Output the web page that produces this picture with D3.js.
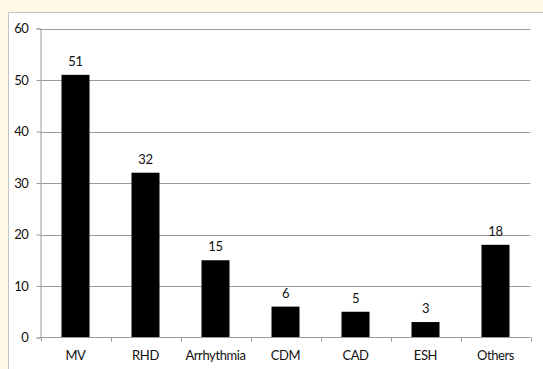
<!DOCTYPE html>
<html>
<head>
<meta charset="utf-8">
<script src="https://cdn.jsdelivr.net/npm/d3@7"></script>
<style>
  html, body { margin: 0; padding: 0; background: #fffae6; }
  svg { display: block; }
  text { font-family: "Lato", "Liberation Sans", sans-serif; fill: #111; letter-spacing: -0.4px; }
</style>
</head>
<body>
<svg id="chart" width="543" height="369"></svg>
<script>
const categories = ["MV", "RHD", "Arrhythmia", "CDM", "CAD", "ESH", "Others"];
const counts = [51, 32, 15, 6, 5, 3, 18];
const yTicks = [0, 10, 20, 30, 40, 50, 60];

const W = 543, H = 369;
const plot = { left: 40.5, right: 530.5, top: 28.5, bottom: 337.5 };
const FS = 13;

const svg = d3.select("#chart");

// chart panel
svg.append("rect")
  .attr("x", 8.5).attr("y", 12.5)
  .attr("width", W).attr("height", H)
  .attr("fill", "#ffffff")
  .attr("stroke", "#c4c4c4");

const x = d3.scaleBand()
  .domain(categories)
  .range([plot.left, plot.right])
  .paddingInner(0.6)
  .paddingOuter(0.3);

const xEdges = d3.scaleBand()
  .domain(categories)
  .range([plot.left, plot.right]);

const y = d3.scaleLinear()
  .domain([0, 60])
  .range([plot.bottom, plot.top]);

// horizontal gridlines
svg.append("g")
  .selectAll("line")
  .data(yTicks.slice(1))
  .join("line")
  .attr("x1", plot.left).attr("x2", plot.right)
  .attr("y1", d => Math.round(y(d)) + 0.5)
  .attr("y2", d => Math.round(y(d)) + 0.5)
  .attr("stroke", "#9a9a9a");

// y axis
const yAxis = svg.append("g")
  .attr("transform", `translate(${plot.left},0)`)
  .call(d3.axisLeft(y).tickValues(yTicks).tickSize(4).tickPadding(8)
    .tickFormat(d3.format("d")));
yAxis.select(".domain").attr("stroke", "#9a9a9a");
yAxis.selectAll(".tick line").attr("stroke", "#9a9a9a");
yAxis.selectAll(".tick text").attr("font-size", FS).attr("fill", "#111")
  .attr("font-family", "Lato, sans-serif");

// bars
svg.append("g")
  .selectAll("rect")
  .data(categories)
  .join("rect")
  .attr("x", d => x(d))
  .attr("width", x.bandwidth())
  .attr("y", (d, i) => y(counts[i]))
  .attr("height", (d, i) => y(0) - y(counts[i]))
  .attr("fill", "#000");

// value labels
svg.append("g")
  .selectAll("text")
  .data(categories)
  .join("text")
  .attr("x", d => x(d) + x.bandwidth() / 2)
  .attr("y", (d, i) => y(counts[i]) - 9)
  .attr("text-anchor", "middle")
  .attr("font-size", FS)
  .text((d, i) => counts[i]);

// x axis line and boundary ticks
const xa = svg.append("g");
xa.append("line")
  .attr("x1", plot.left).attr("x2", plot.right)
  .attr("y1", plot.bottom).attr("y2", plot.bottom)
  .attr("stroke", "#9a9a9a");
const edges = categories.map(c => xEdges(c)).concat([plot.right]);
xa.selectAll("line.edge")
  .data(edges)
  .join("line")
  .attr("class", "edge")
  .attr("x1", d => Math.round(d) + 0.5).attr("x2", d => Math.round(d) + 0.5)
  .attr("y1", plot.bottom).attr("y2", plot.bottom + 4)
  .attr("stroke", "#9a9a9a");
xa.selectAll("text")
  .data(categories)
  .join("text")
  .attr("x", d => xEdges(d) + xEdges.bandwidth() / 2)
  .attr("y", 360)
  .attr("text-anchor", "middle")
  .attr("font-size", FS)
  .text(d => d);
</script>
</body>
</html>
